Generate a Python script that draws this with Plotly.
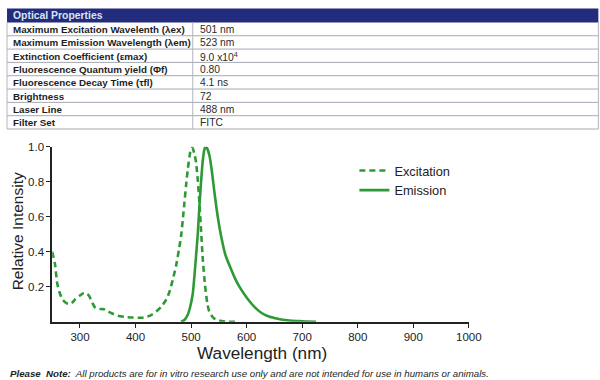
import plotly.graph_objects as go

# ---- data ----
table_labels = [
    "Maximum Excitation Wavelenth (λex)",
    "Maximum Emission Wavelength (λem)",
    "Extinction Coefficient (εmax)",
    "Fluorescence Quantum yield (Φf)",
    "Fluorescence Decay Time (τfl)",
    "Brightness",
    "Laser Line",
    "Filter Set",
]
table_values = ["501 nm", "523 nm", "9.0 x10<sup>4</sup>", "0.80", "4.1 ns", "72", "488 nm", "FITC"]

ex_wl = [250, 255, 259, 263, 268, 274, 280, 286, 292, 300, 307, 312, 316, 322, 328, 336, 343, 350, 358, 368,
         380, 395, 410, 420, 428, 437, 446, 454, 461, 467, 473, 478, 482, 485, 488, 491, 494, 497, 499, 501,
         503, 506, 509, 512, 515, 518, 521, 525, 529, 532, 536, 541, 548, 556, 566, 580]
ex_int = [0.40, 0.33, 0.22, 0.17, 0.13, 0.11, 0.10, 0.11, 0.13, 0.15, 0.165, 0.16, 0.15, 0.11, 0.078, 0.073, 0.072,
          0.06, 0.047, 0.035, 0.028, 0.024, 0.023, 0.028, 0.038, 0.058, 0.085, 0.12, 0.17, 0.24, 0.32, 0.41,
          0.49, 0.58, 0.68, 0.78, 0.87, 0.94, 0.98, 0.995, 0.99, 0.96, 0.91, 0.81, 0.68, 0.52, 0.36, 0.21, 0.11,
          0.065, 0.04, 0.02, 0.01, 0.004, 0.0, 0.0]

em_wl = [482, 488, 494, 498, 503, 507, 512, 515, 518, 521, 524, 526, 529, 533, 537, 542, 548, 554, 562, 572,
         581, 590, 602, 614, 627, 640, 652, 662, 677, 693, 710, 725]
em_int = [0.0, 0.01, 0.04, 0.08, 0.16, 0.3, 0.5, 0.66, 0.8, 0.92, 0.985, 1.0, 0.99, 0.95, 0.87, 0.74, 0.6, 0.49,
          0.38, 0.30, 0.235, 0.185, 0.13, 0.085, 0.05, 0.03, 0.02, 0.013, 0.007, 0.004, 0.001, 0.0]

x_ticks = [300, 400, 500, 600, 700, 800, 900, 1000]
y_ticks = [0.2, 0.4, 0.6, 0.8, 1.0]
y_ticklabels = ["0.2", "0.4", "0.6", "0.8", "1.0"]

GREEN = "#2e9a36"
FONT = "Liberation Sans, Arial, sans-serif"
W, H = 615, 390
SX = 0.975          # observed horizontal screenshot scale
SY, OY = 0.99, 4.5  # observed vertical screenshot scale / offset


def px(x):
    """reference image x -> paper"""
    return (x / SX) / W


def py(y):
    """reference image y -> paper"""
    return 1 - ((y - OY) / SY) / H


fig = go.Figure()
fig.add_trace(go.Scatter(x=ex_wl, y=ex_int, mode="lines", name="Excitation",
                         line=dict(color=GREEN, width=2.6, dash="6px,4px", shape="spline", smoothing=0.6)))
fig.add_trace(go.Scatter(x=em_wl, y=em_int, mode="lines", name="Emission",
                         line=dict(color=GREEN, width=2.6, shape="spline", smoothing=0.6)))

shapes = []
annotations = []

# ---- table ----
tx0, tx1, tcol = 7, 596, 192
head_top, head_bot = 7, 21
row_h = 13.4
shapes.append(dict(type="rect", xref="paper", yref="paper", x0=px(tx0), x1=px(tx1),
                   y0=py(head_bot), y1=min(1, py(head_top)), fillcolor="#232b7c", line=dict(width=0), layer="above"))
annotations.append(dict(text="<b>Optical Properties</b>", xref="paper", yref="paper", x=px(11),
                        y=py((head_top + head_bot) / 2 + 0.5),
                        xanchor="left", yanchor="middle", showarrow=False,
                        font=dict(family=FONT, size=10.4, color="#d8e4f6")))
n = len(table_labels)
for i in range(n):
    ytop = head_bot + i * row_h
    ybot = ytop + row_h
    shapes.append(dict(type="line", xref="paper", yref="paper", x0=px(tx0), x1=px(tx1), y0=py(ybot), y1=py(ybot),
                       line=dict(color="#a8a8b4", width=1)))
    ym = (ytop + ybot) / 2 + 0.5
    annotations.append(dict(text="<b>" + table_labels[i] + "</b>", xref="paper", yref="paper", x=px(11), y=py(ym),
                            xanchor="left", yanchor="middle", showarrow=False,
                            font=dict(family=FONT, size=9.8, color="#1e1e1e")))
    annotations.append(dict(text=table_values[i], xref="paper", yref="paper", x=px(197), y=py(ym),
                            xanchor="left", yanchor="middle", showarrow=False,
                            font=dict(family=FONT, size=10.3, color="#2a2a2a")))
tab_bot = head_bot + n * row_h
for xv in (tx0, tcol, tx1):
    shapes.append(dict(type="line", xref="paper", yref="paper", x0=px(xv), x1=px(xv), y0=py(tab_bot), y1=py(head_bot),
                       line=dict(color="#b4b4c0", width=1)))

# ---- axis titles ----
annotations.append(dict(text="Relative Intensity", xref="paper", yref="paper", x=px(17), y=py(231),
                        xanchor="center", yanchor="middle", textangle=-90, showarrow=False,
                        font=dict(family=FONT, size=15.5, color="#222222")))
annotations.append(dict(text="Wavelength (nm)", xref="paper", yref="paper", x=px(261), y=py(353),
                        xanchor="center", yanchor="middle", showarrow=False,
                        font=dict(family=FONT, size=17.2, color="#222222")))

# ---- note ----
annotations.append(dict(text="<b>Please  Note:</b>  All products are for in vitro research use only and are not intended for use in humans or animals.",
                        xref="paper", yref="paper", x=px(8), y=py(374), xanchor="left", yanchor="middle",
                        showarrow=False, font=dict(family=FONT, size=9.7, color="#222222", style="italic")))

fig.update_layout(
    width=W, height=H,
    margin=dict(l=0, r=0, t=0, b=0),
    paper_bgcolor="white", plot_bgcolor="white",
    shapes=shapes, annotations=annotations,
    showlegend=True,
    legend=dict(x=px(353), y=py(155), xanchor="left", yanchor="top", bgcolor="rgba(0,0,0,0)",
                font=dict(family=FONT, size=12.8, color="#222222"),
                itemwidth=30, tracegroupgap=0),
    xaxis=dict(domain=[px(52), px(467)], range=[250, 1000], tickvals=x_ticks,
               showgrid=False, zeroline=False, showline=True, linecolor="#222222", linewidth=1.7,
               ticks="outside", ticklen=4, tickcolor="#222222", tickwidth=1.3,
               tickfont=dict(family=FONT, size=11.5, color="#222222")),
    yaxis=dict(domain=[py(322), py(146)], range=[0, 1.0], tickvals=y_ticks, ticktext=y_ticklabels,
               showgrid=False, zeroline=False, showline=True, linecolor="#222222", linewidth=1.7,
               ticks="outside", ticklen=4, tickcolor="#222222", tickwidth=1.3,
               tickfont=dict(family=FONT, size=11.5, color="#222222")),
)

fig.write_html("out.html", config={"displayModeBar": False},
               post_script="document.body.style.margin='0';document.body.style.padding='0';"
                           "document.documentElement.style.overflow='hidden';")
